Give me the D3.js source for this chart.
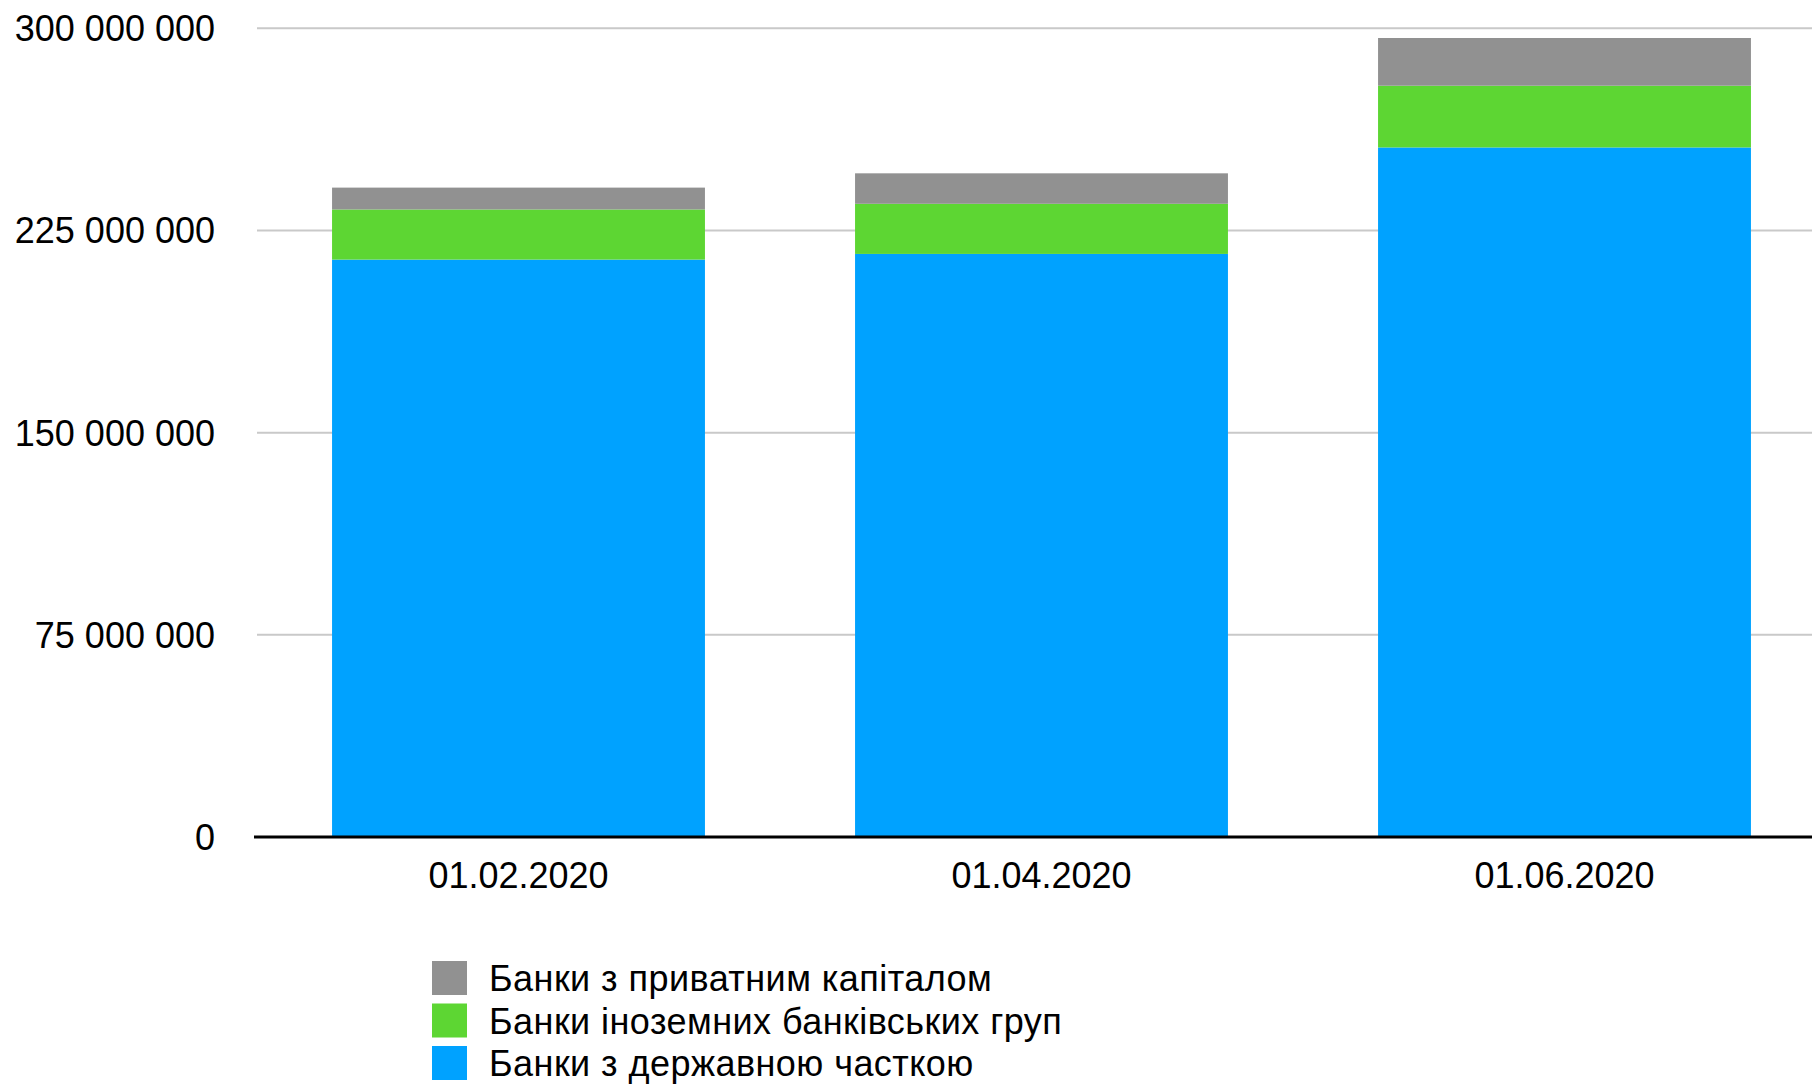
<!DOCTYPE html>
<html>
<head>
<meta charset="utf-8">
<script src="https://cdn.jsdelivr.net/npm/d3@7"></script>
<style>
  body { margin: 0; background: #fff; }
  svg { display: block; font-family: "Liberation Sans", Arial, sans-serif; }
</style>
</head>
<body>
<svg></svg>
<script>
// dates on the x axis
const dates = ['01.02.2020', '01.04.2020', '01.06.2020'];
// series values (UAH thousand), bottom to top of each stack
const stateBanks = [214200000, 216300000, 255800000];
const foreignBanks = [18600000, 18600000, 22900000];
const privateBanks = [8100000, 11300000, 17700000];
const seriesNames = ['Банки з державною часткою', 'Банки іноземних банківських груп', 'Банки з приватним капіталом'];
const yTicks = [0, 75000000, 150000000, 225000000, 300000000];

const svgWidth = 1812, svgHeight = 1087;
const colors = ['#00a2ff', '#5dd633', '#919191'];

const svg = d3.select('svg')
    .attr('width', svgWidth)
    .attr('height', svgHeight);

const data = dates.map(function(d, i) {
    return { date: d, s0: stateBanks[i], s1: foreignBanks[i], s2: privateBanks[i] };
});

const stack = d3.stack().keys(['s0', 's1', 's2']);
const stacked = stack(data);

const x = d3.scaleBand()
    .domain(dates)
    .range([257, 1826])
    .paddingInner(0.287)
    .paddingOuter(0.1435);

const y = d3.scaleLinear()
    .domain([0, 300000000])
    .range([837, 28.3]);

// gridlines
svg.append('g')
    .selectAll('line')
    .data(yTicks.slice(1))
    .join('line')
    .attr('x1', 257)
    .attr('x2', svgWidth)
    .attr('y1', d => y(d))
    .attr('y2', d => y(d))
    .attr('stroke', '#c9c9c9')
    .attr('stroke-width', 2);

// y labels
const fmt = v => d3.format(',')(v).replace(/,/g, ' ');
svg.append('g')
    .selectAll('text')
    .data(yTicks)
    .join('text')
    .attr('x', 215)
    .attr('y', d => y(d) + 13)
    .attr('text-anchor', 'end')
    .attr('font-size', 36)
    .attr('fill', '#000')
    .text(d => fmt(d));

// bars
svg.append('g')
    .selectAll('g')
    .data(stacked)
    .join('g')
    .attr('fill', (d, i) => colors[i])
    .selectAll('rect')
    .data(d => d)
    .join('rect')
    .attr('x', d => x(d.data.date))
    .attr('width', x.bandwidth())
    .attr('y', d => y(d[1]))
    .attr('height', d => y(d[0]) - y(d[1]));

// baseline
svg.append('line')
    .attr('x1', 254)
    .attr('x2', svgWidth)
    .attr('y1', y(0))
    .attr('y2', y(0))
    .attr('stroke', '#000')
    .attr('stroke-width', 3);

// x labels
const xAxis = d3.axisBottom(x).tickSize(0).tickPadding(0);
const xg = svg.append('g')
    .attr('transform', 'translate(0,' + y(0) + ')')
    .call(xAxis);
xg.select('.domain').remove();
xg.selectAll('text')
    .attr('y', 51)
    .attr('dy', null)
    .attr('font-size', 36)
    .attr('font-family', '"Liberation Sans", Arial, sans-serif')
    .attr('fill', '#000');

// legend (top to bottom: private, foreign, state)
const legendOrder = [2, 1, 0];
const legend = svg.append('g')
    .selectAll('g')
    .data(legendOrder)
    .join('g')
    .attr('transform', (d, i) => 'translate(432,' + (961 + i * 42.5) + ')');

legend.append('rect')
    .attr('width', 35)
    .attr('height', 34)
    .attr('fill', d => colors[d]);

legend.append('text')
    .attr('x', 57)
    .attr('y', 30)
    .attr('font-size', 36)
    .attr('letter-spacing', 0.45)
    .attr('fill', '#000')
    .text(d => seriesNames[d]);
</script>
</body>
</html>
